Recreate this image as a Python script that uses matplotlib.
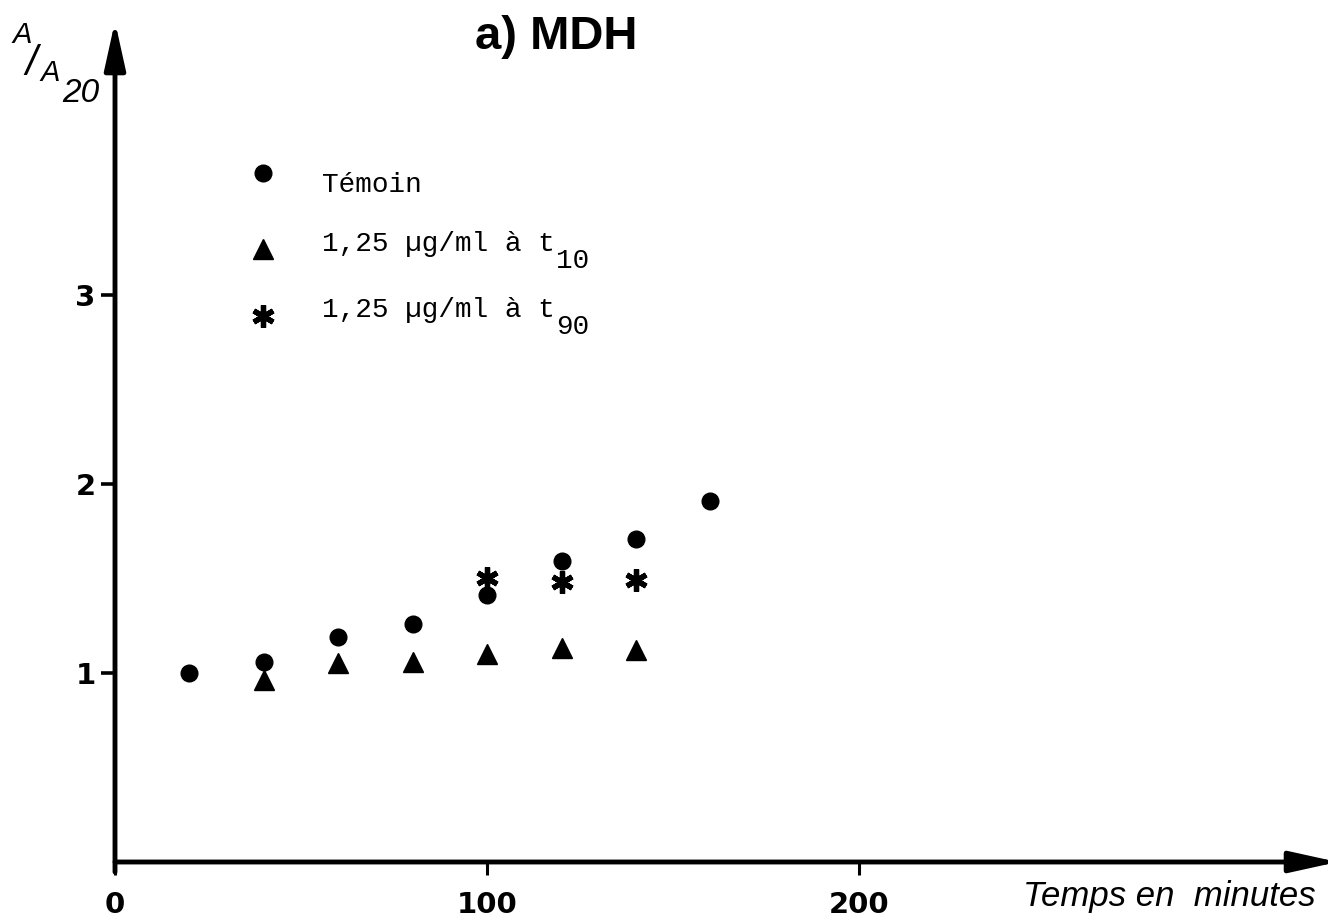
import matplotlib.pyplot as plt
import numpy as np

# Témoin
x_temoin = [20, 40, 60, 80, 100, 120, 140, 160]
y_temoin = [1.00, 1.06, 1.19, 1.26, 1.41, 1.59, 1.71, 1.91]
# 1,25 ug/ml a t10
x_t10 = [40, 60, 80, 100, 120, 140]
y_t10 = [0.96, 1.05, 1.06, 1.10, 1.13, 1.12]
# 1,25 ug/ml a t90
x_t90 = [100, 120, 140]
y_t90 = [1.50, 1.48, 1.49]

xticks = [0, 100, 200]
yticks = [1, 2, 3]

fig = plt.figure(figsize=(13.28, 9.21), dpi=100)
ax = fig.add_axes([115/1328, 59/921, 1213/1328, 834/921])
ax.set_xlim(0, 326)
ax.set_ylim(0, 4.41)
for s in ax.spines.values():
    s.set_visible(False)

# axes with arrow heads
arrow = dict(arrowstyle='-|>,head_length=1.45,head_width=0.32', lw=3.5, color='black',
             mutation_scale=20, shrinkA=0, shrinkB=0)
ax.annotate('', xy=(1.008, 0), xytext=(0, 0), xycoords='axes fraction', arrowprops=arrow,
            annotation_clip=False)
ax.annotate('', xy=(0, 1.008), xytext=(0, -0.012), xycoords='axes fraction', arrowprops=arrow,
            annotation_clip=False)

ax.set_xticks(xticks)
ax.set_xticklabels([str(t) for t in xticks])
ax.set_yticks(yticks)
ax.set_yticklabels([str(t) for t in yticks])
ax.tick_params(axis='x', direction='out', length=9, width=2.2, pad=12, labelsize=21)
ax.tick_params(axis='y', direction='out', length=10, width=2.6, pad=4, labelsize=21)
for lab in ax.get_xticklabels() + ax.get_yticklabels():
    lab.set_fontweight('bold')

# data
ax.plot(x_temoin, y_temoin, 'o', color='black', markersize=12, clip_on=False)
ax.plot(x_t10, y_t10, '^', color='black', markersize=15, clip_on=False)
ax.plot(x_t90, y_t90, marker=(6, 2, 0), linestyle='none', color='black',
        markersize=16, markeredgewidth=3.8, clip_on=False)

# legend drawn by hand
mono = ['Liberation Mono', 'DejaVu Sans Mono']
lx, tx = 263/1328, 322/1328
marker_rows = [1 - 173/921, 1 - 249/921, 1 - 316/921]
text_rows = [1 - 185/921, 1 - 244/921, 1 - 310/921]
fig.add_artist(plt.Line2D([lx], [marker_rows[0]], marker='o', color='black', markersize=12,
                          transform=fig.transFigure))
fig.add_artist(plt.Line2D([lx], [marker_rows[1]], marker='^', color='black', markersize=15,
                          transform=fig.transFigure))
fig.add_artist(plt.Line2D([lx], [marker_rows[2]], marker=(6, 2, 0), color='black', markersize=16,
                          markeredgewidth=3.8, transform=fig.transFigure))
fig.text(tx, text_rows[0], 'Témoin', family=mono, fontsize=20, va='center')
t10 = fig.text(tx, text_rows[1], '1,25 µg/ml à t', family=mono, fontsize=20, va='center')
t90 = fig.text(tx, text_rows[2], '1,25 µg/ml à t', family=mono, fontsize=20, va='center')

fig.canvas.draw()
rend = fig.canvas.get_renderer()
inv = fig.transFigure.inverted()
for t, sub in [(t10, '10'), (t90, '90')]:
    bb = t.get_window_extent(rend)
    x1, y0 = inv.transform((bb.x1, bb.y0))
    fig.text(x1 + 0.001, y0 - 0.004, sub, family=mono, fontsize=20, va='center')

# title and axis labels
sans = ['Liberation Sans', 'DejaVu Sans']
fig.text(556/1328, 1 - 37/921, 'a) MDH', ha='center', va='center', fontsize=34,
         fontweight='bold', family=sans)
fig.text(1316/1328, 1 - 896/921, 'Temps en  minutes', ha='right', va='center',
         fontsize=25, style='italic', family=sans)
fig.text(12/1328, 1 - 35/921, 'A', ha='left', va='center', fontsize=21, style='italic', family=sans)
fig.text(25/1328, 1 - 64/921, '/', ha='left', va='center', fontsize=30, style='italic', family=sans)
fig.text(40/1328, 1 - 73/921, 'A', ha='left', va='center', fontsize=21, style='italic', family=sans)
fig.text(62/1328, 1 - 93/921, '20', ha='left', va='center', fontsize=24, style='italic', family=sans)

fig.savefig('out.png', dpi=100)
